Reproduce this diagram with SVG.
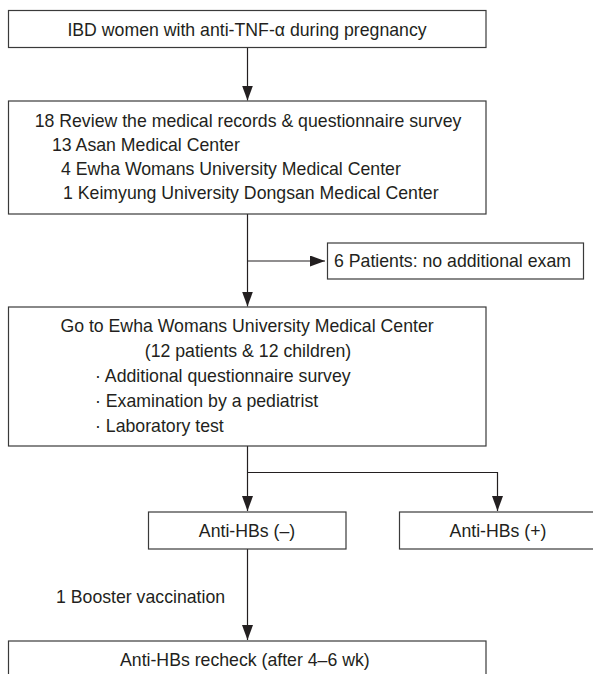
<svg xmlns="http://www.w3.org/2000/svg" width="593" height="674" viewBox="0 0 593 674">
<style>
.box{fill:#fff;stroke:#3a3a3a;stroke-width:1.2}
.t{font-family:"Liberation Sans",Arial,sans-serif;font-size:17.7px;fill:#231f20}
.c{text-anchor:middle}
.ln{fill:none;stroke:#231f20;stroke-width:1.2}
</style>
<defs>
<marker id="ah" viewBox="0 0 15 11" refX="15" refY="5.5" markerWidth="15" markerHeight="11" orient="auto" markerUnits="userSpaceOnUse">
<path d="M0,0 L15,5.5 L0,11 z" fill="#231f20"/>
</marker>
</defs>
<rect width="593" height="674" fill="#fff"/>
<g id="connectors">
<path class="ln" d="M247.5,48 V100.5" marker-end="url(#ah)"/>
<path class="ln" d="M247.5,214 V306.5" marker-end="url(#ah)"/>
<path class="ln" d="M247.5,261 H325" marker-end="url(#ah)"/>
<path class="ln" d="M247.5,446 V511" marker-end="url(#ah)"/>
<path class="ln" d="M247.5,472.5 H497.5 V511" marker-end="url(#ah)"/>
<path class="ln" d="M247.5,549 V640" marker-end="url(#ah)"/>
</g>
<g id="n1">
<rect class="box" x="8.5" y="10.5" width="477.5" height="37"/>
<text class="t c" x="247" y="36">IBD women with anti-TNF-α during pregnancy</text>
</g>
<g id="n2">
<rect class="box" x="8.5" y="101" width="477.5" height="113"/>
<text class="t c" x="248" y="127">18 Review the medical records &amp; questionnaire survey</text>
<text class="t" x="52" y="151">13 Asan Medical Center</text>
<text class="t" x="61" y="175">4 Ewha Womans University Medical Center</text>
<text class="t" x="63" y="199">1 Keimyung University Dongsan Medical Center</text>
</g>
<g id="n3">
<rect class="box" x="327.5" y="243" width="256" height="36"/>
<text class="t" x="334" y="267">6 Patients: no additional exam</text>
</g>
<g id="n4">
<rect class="box" x="8.5" y="307" width="477.5" height="139"/>
<text class="t c" x="247" y="332">Go to Ewha Womans University Medical Center</text>
<text class="t c" x="248" y="357">(12 patients &amp; 12 children)</text>
<text class="t" x="95" y="382">· Additional questionnaire survey</text>
<text class="t" x="95" y="407">· Examination by a pediatrist</text>
<text class="t" x="95" y="432">· Laboratory test</text>
</g>
<g id="n5">
<rect class="box" x="148.5" y="512" width="197.5" height="37"/>
<text class="t c" x="247" y="537">Anti-HBs (–)</text>
</g>
<g id="n6">
<rect class="box" x="399.5" y="512" width="200" height="37"/>
<text class="t c" x="498" y="537">Anti-HBs (+)</text>
</g>
<g id="e1">
<text class="t" x="56" y="603">1 Booster vaccination</text>
</g>
<g id="n7">
<rect class="box" x="8.5" y="641" width="477.5" height="45"/>
<text class="t" x="120" y="666">Anti-HBs recheck (after 4–6 wk)</text>
</g>
</svg>
